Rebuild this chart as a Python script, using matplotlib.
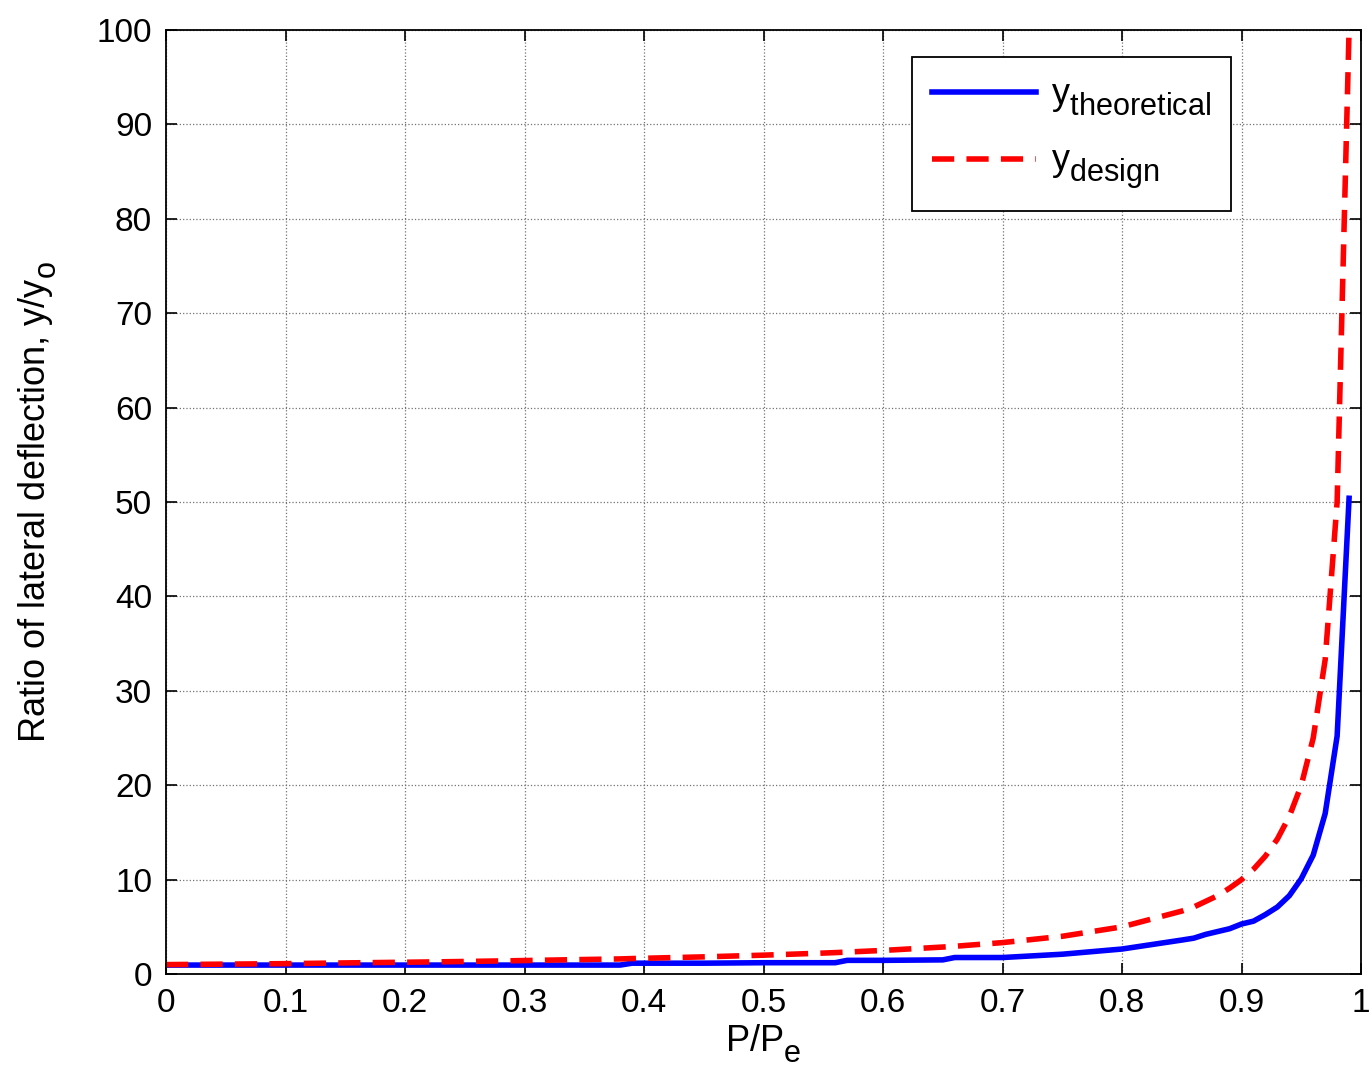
import numpy as np
import matplotlib.pyplot as plt
import matplotlib._mathtext as mtext

plt.rcParams['font.family'] = ['Liberation Sans', 'DejaVu Sans']
plt.rcParams['mathtext.default'] = 'regular'
# subscripts in the original are large and sit fairly low
mtext.SHRINK_FACTOR = 0.85
mtext.FontConstantsBase.sub1 = 0.55

# P/Pe values and ratios
p_ratio = [0.0, 0.05, 0.10, 0.15, 0.20, 0.25, 0.30, 0.35, 0.38, 0.39, 0.45,
           0.50, 0.55, 0.56, 0.57, 0.60, 0.65, 0.66, 0.70, 0.75, 0.80, 0.85,
           0.86, 0.87, 0.88, 0.89, 0.90, 0.91, 0.92, 0.93, 0.94, 0.95, 0.96,
           0.97, 0.98, 0.99]
y_theoretical = [0.95, 0.95, 0.95, 0.95, 0.95, 0.95, 0.95, 0.95, 0.95, 1.15, 1.15,
                 1.2, 1.2, 1.2, 1.45, 1.45, 1.5, 1.75, 1.75, 2.1, 2.65, 3.6,
                 3.8, 4.2, 4.5, 4.8, 5.3, 5.6, 6.3, 7.1, 8.3, 10.1, 12.6,
                 17.0, 25.2, 50.4]
y_design = [1.0, 1.05, 1.1, 1.18, 1.25, 1.33, 1.43, 1.54, 1.6, 1.64, 1.82,
            2.0, 2.22, 2.27, 2.33, 2.5, 2.86, 2.94, 3.33, 4.0, 5.0, 6.67,
            7.1, 7.7, 8.3, 9.1, 10.0, 11.1, 12.5, 14.3, 16.7, 20.0, 25.0,
            33.3, 50.0, 100.0]

fig = plt.figure(figsize=(13.72, 10.77), dpi=100)
ax = fig.add_axes([0.121, 0.0956, 0.871, 0.8765])

ax.plot(p_ratio, y_theoretical, color='#0000ff', lw=4.0, label='$y_{theoretical}$')
ax.plot(p_ratio, y_design, color='#ff0000', lw=4.0, ls='--', dashes=(4, 2.2),
        label='$y_{design}$')

ax.set_xlim(0, 1)
ax.set_ylim(0, 100)
ax.set_xticks(np.arange(0, 1.01, 0.1))
ax.set_xticklabels(['0', '0.1', '0.2', '0.3', '0.4', '0.5', '0.6', '0.7', '0.8', '0.9', '1'])
ax.set_yticks(np.arange(0, 101, 10))

ax.grid(True, color='0.45', ls=':', lw=0.9)
ax.tick_params(direction='in', length=8, width=1.2, top=True, right=True,
               labelsize=24, pad=10)
for s in ax.spines.values():
    s.set_linewidth(1.3)

ax.set_xlabel('P/P$_e$', fontsize=26, labelpad=2)
ax.set_ylabel('Ratio of lateral deflection, y/y$_o$', fontsize=26)
ax.yaxis.set_label_coords(-0.09, 0.5)

leg = ax.legend(loc='upper right', fontsize=26, handlelength=2.9,
                fancybox=False, edgecolor='black', framealpha=1,
                borderpad=0.55, labelspacing=0.75, handletextpad=0.4,
                borderaxespad=0, bbox_to_anchor=(0.891, 0.971))
leg.get_frame().set_linewidth(1.3)

fig.savefig('out.png', dpi=100)
